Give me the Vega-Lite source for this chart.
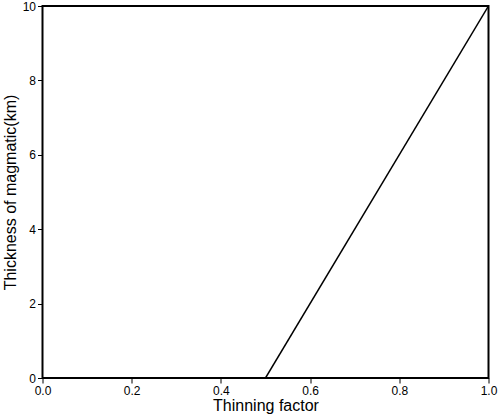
{
  "$schema": "https://vega.github.io/schema/vega-lite/v6.json",
  "width": 446,
  "height": 372,
  "autosize": {"type": "none"},
  "padding": {"left": 42.5, "top": 6, "right": 10, "bottom": 42},
  "background": "white",
  "config": {
    "view": {"stroke": "black", "strokeWidth": 2},
    "axis": {
      "grid": false,
      "domain": false,
      "tickColor": "black",
      "tickSize": 5,
      "tickWidth": 1,
      "labelColor": "black",
      "labelFont": "Liberation Sans",
      "labelFontSize": 12,
      "labelPadding": 2,
      "titleColor": "black",
      "titleFont": "Liberation Sans",
      "titleFontSize": 16,
      "titleFontWeight": "normal"
    }
  },
  "data": {"values": [{"t": 0.5, "h": 0}, {"t": 1.0, "h": 10}]},
  "mark": {"type": "line", "color": "black", "strokeWidth": 1.5, "clip": true},
  "encoding": {
    "x": {"field": "t", "type": "quantitative", "title": "Thinning factor", "scale": {"domain": [0, 1], "nice": false}, "axis": {"values": [0, 0.2, 0.4, 0.6, 0.8, 1.0], "format": ".1f", "titlePadding": 1, "labelFlush": false}},
    "y": {"field": "h", "type": "quantitative", "title": "Thickness of magmatic(km)", "scale": {"domain": [0, 10], "nice": false}, "axis": {"values": [0, 2, 4, 6, 8, 10], "titlePadding": 4, "labelFlush": false}}
  }
}
